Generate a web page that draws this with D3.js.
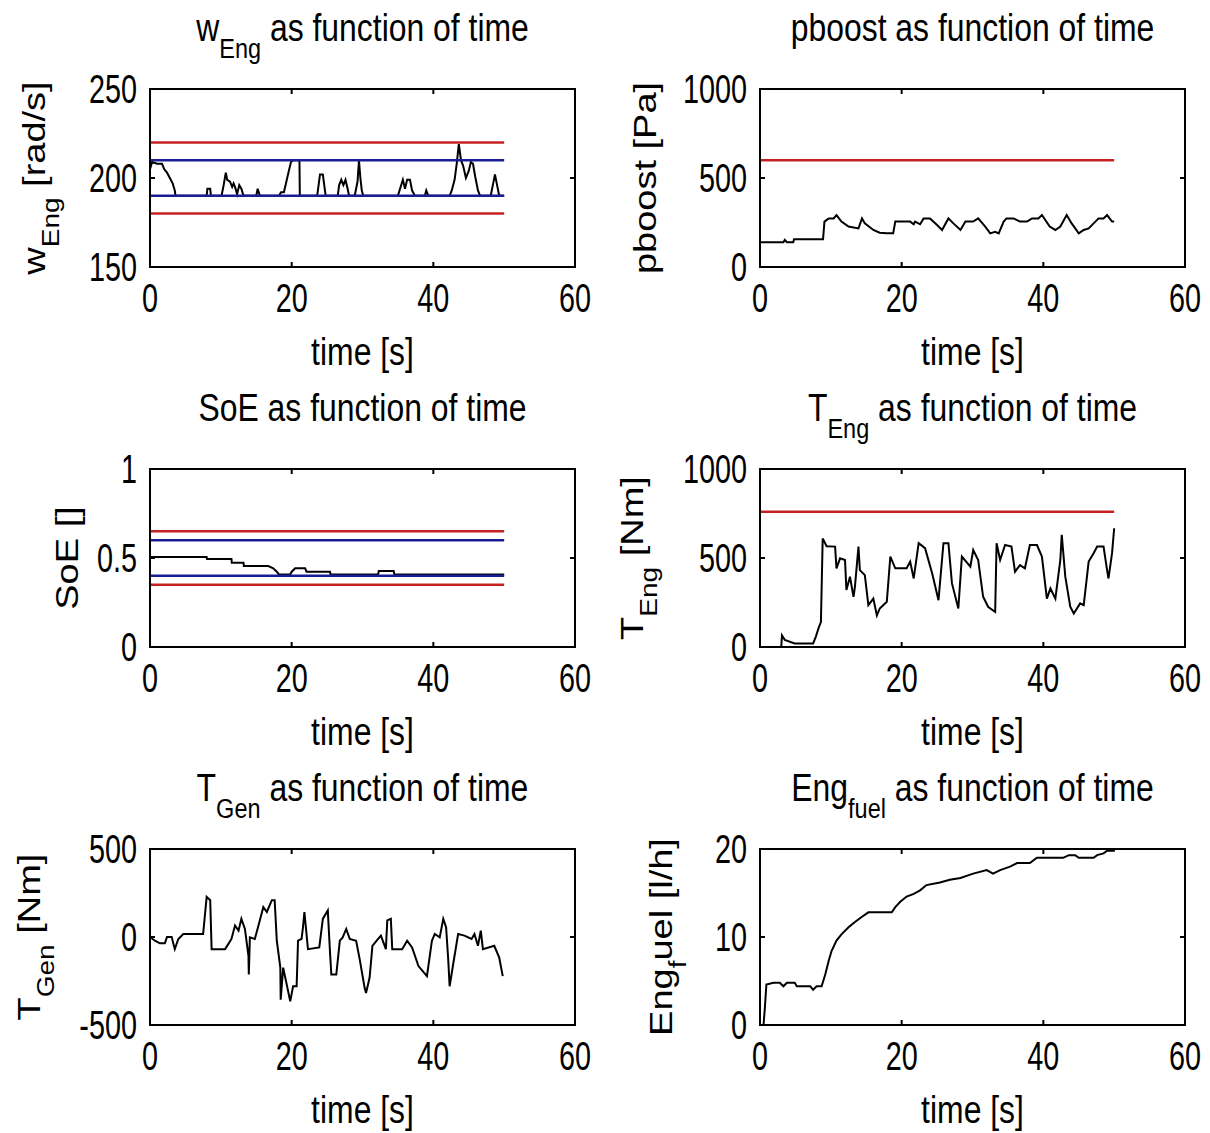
<!DOCTYPE html>
<meta charset="utf-8">
<script src="https://d3js.org/d3.v7.min.js"></script>
<style>
  body { margin: 0; background: #fff; }
  text { font-family: "Liberation Sans", Arial, sans-serif; fill: #000; }
</style>
<div id="my_dataviz"></div>
<script>
// time axis (same for all six plots)
var xTicks = [0, 20, 40, 60];
var limitSpan = [0, 50];

// w_Eng [rad/s]
var wEngTicks = [150, 200, 250];
var wEngRed = [180, 220];
var wEngBlue = [190, 210];
var wEng = [[0,205],[0.3,209],[1.0,208],[1.7,208],[2.0,205],[2.4,203],[2.8,200],[3.2,197],[3.5,193],[3.6,190],
  [8.0,190],[8.1,194],[8.5,194],[8.6,190],[10.1,190],[10.4,196],[10.7,203],[10.9,199],[11.3,198],[11.6,195],
  [11.8,197],[12.0,195],[12.3,191],[12.6,196],[12.9,194],[13.2,190],[15.0,190],[15.2,194],[15.5,190],[18.2,190],
  [18.5,192],[18.9,192],[19.2,197],[19.6,204],[19.9,209],[20.2,210],[21.1,210],[21.15,190],[23.6,190],[23.8,196],
  [24.0,202],[24.4,202],[24.6,196],[24.8,190],[26.5,190],[26.7,196],[27.0,199],[27.3,196],[27.6,199],[27.9,194],
  [28.1,190],[28.9,190],[29.3,198],[29.5,210],[29.7,200],[29.9,193],[30.1,190],[35.0,190],[35.3,194],[35.7,199],
  [36.0,194],[36.3,199],[36.7,199],[37.0,193],[37.4,190],[38.8,190],[39.0,193],[39.3,190],[42.3,190],[42.6,193],
  [43.0,199],[43.3,208],[43.6,219],[43.9,210],[44.2,207],[44.6,200],[45.0,204],[45.3,209],[45.6,208],[45.9,201],
  [46.3,193],[46.6,190],[48.1,190],[48.4,196],[48.7,202],[49.0,196],[49.3,190],[50,190]];

// pboost [Pa]
var pBoostTicks = [0, 500, 1000];
var pBoostRed = [600];
var pBoost = [[0,139],[3.3,139],[3.5,152],[3.8,139],[4.7,139],[4.8,156],[8.9,156],[9.1,255],[9.7,273],[10.4,273],
  [10.8,292],[11.5,255],[12.5,227],[13.9,217],[14.4,273],[14.8,245],[16.0,208],[16.9,193],[17.9,189],[18.8,189],
  [19.1,255],[21.2,255],[21.7,240],[21.9,255],[22.6,240],[23.1,273],[24.0,273],[25.0,236],[25.7,208],[26.6,273],
  [27.3,245],[28.3,208],[29.0,255],[30.1,255],[30.8,273],[31.8,227],[32.5,189],[33.2,198],[33.7,189],[34.4,255],
  [34.8,273],[35.8,273],[36.7,255],[37.7,255],[38.4,273],[39.3,273],[39.8,292],[40.9,227],[41.7,208],[42.4,227],
  [43.3,292],[44.0,245],[45.0,189],[45.7,208],[46.4,217],[47.1,245],[47.8,273],[48.5,273],[49.0,292],[49.7,255],[50,255]];

// SoE []
var soeTicks = [0, 0.5, 1];
var soeRed = [0.35, 0.65];
var soeBlue = [0.4, 0.6];
var soe = [[0,0.505],[8.0,0.505],[8.05,0.494],[11.5,0.494],[11.55,0.474],[13.2,0.474],[13.25,0.455],[16.7,0.455],
  [17.4,0.442],[17.9,0.423],[18.2,0.408],[19.8,0.408],[20.0,0.423],[20.5,0.442],[21.9,0.442],[22.1,0.423],
  [25.4,0.423],[25.5,0.408],[32.2,0.408],[32.3,0.427],[34.4,0.427],[34.5,0.408],[50,0.408]];

// T_Eng [Nm]
var tEngTicks = [0, 500, 1000];
var tEngRed = [760];
var tEng = [[0,0],[3.0,0],[3.1,65],[3.5,40],[4.9,20],[7.5,20],[7.9,60],[8.3,110],[8.6,140],[8.85,610],[9.4,566],
  [10.6,564],[10.8,442],[11.3,498],[12.0,489],[12.2,320],[12.7,395],[13.2,282],[13.4,338],[13.9,564],[14.1,432],
  [14.8,404],[15.3,235],[16.0,272],[16.5,178],[16.9,216],[17.9,254],[18.4,508],[19.1,442],[20.7,442],[21.2,480],
  [21.7,385],[22.4,583],[23.3,555],[24.3,414],[25.2,263],[25.9,583],[26.6,583],[27.1,357],[28.0,216],[28.5,508],
  [29.7,451],[30.1,545],[30.8,489],[31.5,282],[32.2,226],[33.2,197],[33.4,583],[33.9,489],[34.6,573],[35.5,564],
  [36.0,423],[36.7,460],[37.4,442],[38.1,573],[39.1,573],[39.8,508],[40.5,272],[41.0,329],[41.7,272],[42.4,489],
  [42.6,630],[43.1,395],[43.8,226],[44.3,188],[45.2,245],[45.7,235],[46.4,480],[47.1,527],[47.6,564],[48.5,564],
  [49.0,432],[49.2,385],[49.7,527],[50,667]];

// T_Gen [Nm]
var tGenTicks = [-500, 0, 500];
var tGen = [[0,0],[0.7,-21],[1.4,-36],[2.1,-36],[2.4,0],[3.06,0],[3.5,-69],[4.0,-11],[4.7,17],[7.5,17],[8.0,228],
  [8.5,209],[8.7,-69],[10.6,-69],[11.5,-11],[12.0,65],[12.5,36],[12.9,103],[13.4,46],[13.9,-107],[13.95,-213],
  [14.1,-2],[14.8,-11],[15.5,94],[16.0,170],[16.5,142],[17.2,209],[17.6,209],[17.9,-21],[18.4,-174],[18.45,-356],
  [18.8,-174],[19.3,-270],[19.8,-366],[20.2,-280],[20.7,-280],[20.9,-21],[21.4,-11],[21.6,56],[21.8,142],[22.3,-69],
  [23.9,-59],[24.4,103],[25.1,151],[25.4,-78],[25.6,-213],[26.3,-213],[26.8,-21],[27.2,-2],[27.7,46],[28.2,-11],
  [29.1,-21],[29.6,-126],[30.3,-289],[30.5,-318],[31.0,-232],[31.4,-50],[32.2,-11],[32.6,8],[33.3,-69],[33.5,94],
  [34.0,103],[34.2,-69],[35.6,-69],[36.3,-21],[37.0,-59],[37.9,-165],[39.1,-222],[39.8,-21],[40.2,17],[40.9,-2],
  [41.4,103],[41.8,56],[42.1,-126],[42.3,-280],[42.8,-155],[43.5,17],[44.4,8],[45.4,-11],[45.8,17],[46.3,-50],
  [46.7,36],[47.0,-69],[48.6,-50],[49.3,-117],[49.8,-222]];

// Eng_fuel [l/h]
var fuelTicks = [0, 10, 20];
var fuel = [[0.5,0],[0.7,2.1],[0.9,4.6],[1.9,4.8],[2.8,4.8],[3.3,4.4],[3.8,4.8],[4.9,4.8],[5.2,4.4],[7.1,4.4],
  [7.5,4.0],[8.0,4.4],[8.7,4.4],[9.2,5.7],[9.7,7.3],[10.1,8.4],[10.8,9.6],[11.5,10.3],[12.5,11.1],[13.4,11.7],
  [14.4,12.3],[15.3,12.8],[18.6,12.8],[19.1,13.4],[19.8,14.0],[20.7,14.6],[21.7,14.9],[22.6,15.3],[23.5,15.9],
  [25.4,16.2],[26.8,16.5],[28.3,16.7],[30.1,17.2],[32.0,17.6],[32.9,17.2],[33.9,17.6],[35.3,18.0],[36.3,18.4],
  [38.1,18.4],[39.1,19.0],[42.8,19.0],[43.6,19.3],[44.5,19.3],[45.0,19.0],[47.1,19.0],[47.6,19.3],[48.5,19.5],
  [49.0,19.8],[50.1,19.8]];

var red = "#c62222", blue = "#1c1c98";

// one entry per subplot; text pieces: [string, "sub" or ""]
var panels = [
  {col: 0, row: 0, data: wEng, ticks: wEngTicks, lims: [[wEngBlue, blue], [wEngRed, red]],
   title: [["w", ""], ["Eng", "sub"], [" as function of time", ""]],
   ylab: [["w", ""], ["Eng", "sub"], [" [rad/s]", ""]], ylabX: 45},
  {col: 1, row: 0, data: pBoost, ticks: pBoostTicks, lims: [[pBoostRed, red]],
   title: [["pboost as function of time", ""]],
   ylab: [["pboost [Pa]", ""]], ylabX: 656},
  {col: 0, row: 1, data: soe, ticks: soeTicks, lims: [[soeBlue, blue], [soeRed, red]],
   title: [["SoE as function of time", ""]],
   ylab: [["SoE []", ""]], ylabX: 78},
  {col: 1, row: 1, data: tEng, ticks: tEngTicks, lims: [[tEngRed, red]],
   title: [["T", ""], ["Eng", "sub"], [" as function of time", ""]],
   ylab: [["T", ""], ["Eng", "sub"], [" [Nm]", ""]], ylabX: 643},
  {col: 0, row: 2, data: tGen, ticks: tGenTicks, lims: [],
   title: [["T", ""], ["Gen", "sub"], [" as function of time", ""]],
   ylab: [["T", ""], ["Gen", "sub"], [" [Nm]", ""]], ylabX: 40},
  {col: 1, row: 2, data: fuel, ticks: fuelTicks, lims: [],
   title: [["Eng", ""], ["fuel", "sub"], [" as function of time", ""]],
   ylab: [["Eng", ""], ["f", "sub"], ["uel [l/h]", ""]], ylabX: 672}
];

var colLeft = [150, 760], boxW = 425;
var rowTop = [89, 469, 849], rowBot = [267, 647, 1025];
var fs = 38, subFs = 28, subDy = 17;
var tickFs = 40, tickSx = 0.72, labSx = 0.84;

var svg = d3.select("#my_dataviz").append("svg")
  .attr("width", 1210).attr("height", 1133);

// the reference looks squeezed sideways: scale glyphs by sx along screen x
function label(parent, x, y, rot, sx, sy, anchor, size, pieces) {
  var t = parent.append("g")
    .attr("transform", "translate(" + x + "," + y + ") rotate(" + rot + ") scale(" + sx + "," + sy + ")")
    .append("text").attr("text-anchor", anchor);
  var shift = 0;
  pieces.forEach(function(p) {
    var s = t.append("tspan").text(p[0]);
    if (p[1] == "sub") { s.attr("font-size", subFs).attr("dy", subDy); shift = subDy; }
    else { s.attr("font-size", size); if (shift) { s.attr("dy", -shift); shift = 0; } }
  });
  return t;
}

panels.forEach(function(p) {
  var x0 = colLeft[p.col], x1 = x0 + boxW;
  var y0 = rowTop[p.row], y1 = rowBot[p.row];
  var x = d3.scaleLinear().domain([xTicks[0], xTicks[xTicks.length - 1]]).range([x0, x1]);
  var y = d3.scaleLinear().domain([p.ticks[0], p.ticks[p.ticks.length - 1]]).range([y1, y0]);
  var g = svg.append("g");

  // data
  g.append("path").datum(p.data)
    .attr("fill", "none").attr("stroke", "#000").attr("stroke-width", 2)
    .attr("d", d3.line().x(function(d) { return x(d[0]); }).y(function(d) { return y(d[1]); }));

  // limit lines
  p.lims.forEach(function(l) {
    l[0].forEach(function(v) {
      g.append("line")
        .attr("x1", x(limitSpan[0])).attr("x2", x(limitSpan[1]))
        .attr("y1", y(v)).attr("y2", y(v))
        .attr("stroke", l[1]).attr("stroke-width", 2.5);
    });
  });

  // box
  g.append("rect").attr("x", x0).attr("y", y0).attr("width", x1 - x0).attr("height", y1 - y0)
    .attr("fill", "none").attr("stroke", "#000").attr("stroke-width", 2);

  // inward ticks, both sides
  xTicks.forEach(function(t) {
    g.append("line").attr("x1", x(t)).attr("x2", x(t)).attr("y1", y1).attr("y2", y1 - 5).attr("stroke", "#000").attr("stroke-width", 2);
    g.append("line").attr("x1", x(t)).attr("x2", x(t)).attr("y1", y0).attr("y2", y0 + 5).attr("stroke", "#000").attr("stroke-width", 2);
    label(g, x(t), y1 + 45, 0, tickSx, 1, "middle", tickFs, [[String(t), ""]]);
  });
  p.ticks.forEach(function(t) {
    g.append("line").attr("x1", x0).attr("x2", x0 + 5).attr("y1", y(t)).attr("y2", y(t)).attr("stroke", "#000").attr("stroke-width", 2);
    g.append("line").attr("x1", x1).attr("x2", x1 - 5).attr("y1", y(t)).attr("y2", y(t)).attr("stroke", "#000").attr("stroke-width", 2);
    label(g, x0 - 13, y(t) + 14, 0, tickSx, 1, "end", tickFs, [[String(t), ""]]);
  });

  // x label
  label(g, (x0 + x1) / 2, y1 + 98, 0, labSx, 1, "middle", fs, [["time [s]", ""]]);

  // title
  label(g, (x0 + x1) / 2, y0 - 48, 0, labSx, 1, "middle", fs, p.title);

  // y label: rotated, so the squeeze goes on the glyph height
  label(g, p.ylabX, (y0 + y1) / 2, -90, 1, labSx, "middle", fs, p.ylab);
});
</script>
